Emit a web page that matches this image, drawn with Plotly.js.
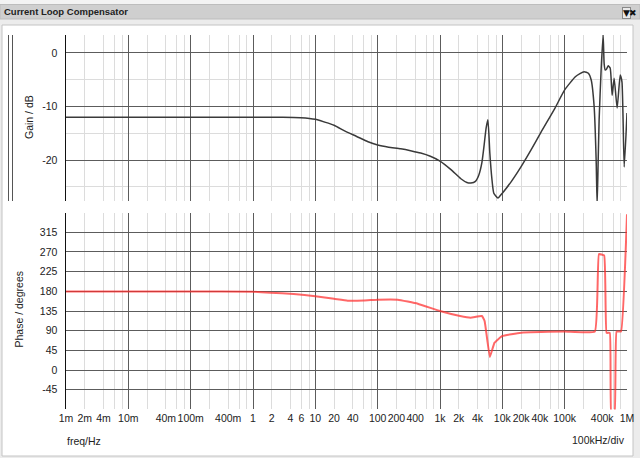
<!DOCTYPE html>
<html>
<head>
<meta charset="utf-8">
<script src="https://cdn.plot.ly/plotly-3.0.1.min.js"></script>
<style>
  html, body { margin: 0; padding: 0; background: #ececec; }
  #chart { width: 640px; height: 458px; }
</style>
</head>
<body>
<div id="chart"></div>
<script>
// ---- data ----
const freqGain = [0.001, 0.01, 0.1, 1, 3, 5.8, 10, 14, 20, 30, 46, 70, 100, 150, 234, 350, 491, 700, 1000, 1500, 2160, 2700, 3130, 3700, 4200, 4700, 5060, 5500, 5870, 6300, 6800, 7300, 8500, 10000, 14000, 19900, 30000, 41800, 70000, 100000, 150000, 205000, 240000, 266000, 297000, 320000, 332000, 345000, 357000, 385000, 414000, 430000, 447000, 470000, 499000, 537000, 578000, 622000, 695000, 778000, 830000, 902000, 1000000];
const gainDb = [-12.0, -12.0, -12.0, -12.0, -12.0, -12.1, -12.4, -12.9, -13.5, -14.6, -15.6, -16.6, -17.2, -17.6, -17.9, -18.3, -18.7, -19.3, -20.2, -21.8, -23.5, -24.2, -24.3, -24.0, -22.8, -20.5, -17.6, -14.0, -12.5, -18.7, -23.5, -26.2, -27.1, -26.2, -24.0, -21.3, -17.8, -14.8, -10.3, -6.9, -4.4, -3.5, -3.8, -5.0, -10.0, -20.0, -28.5, -20.0, -12.5, -3.0, 3.4, -2.0, -3.2, -3.0, -2.4, -2.8, -7.9, -4.7, -10.3, -4.1, -5.4, -21.3, -11.2];

const freqPhase = [0.001, 0.1, 1, 1.9, 4.5, 10, 20, 33, 60, 100, 210, 440, 1000, 2100, 3100, 4700, 5200, 6300, 7500, 10000, 20000, 100000, 305000, 355000, 430000, 470000, 530000, 560000, 630000, 680000, 800000, 1000000];
const phaseDeg = [179.5, 179.5, 179, 177, 174, 168.6, 163, 158.6, 159, 161, 161, 151.7, 135, 123.6, 119.8, 123.6, 112, 30, 62.6, 77.9, 85.4, 88, 88, 265, 262, 85, 85, -100, -100, 88, 88, 356];

const xTickVals = [0.001, 0.002, 0.004, 0.01, 0.04, 0.1, 0.4, 1, 2, 4, 6, 10, 20, 40, 100, 200, 400, 1000, 2000, 4000, 10000, 20000, 40000, 100000, 400000, 1000000];
const xTickText = ['1m', '2m', '4m', '10m', '40m', '100m', '400m', '1', '2', '4', '6', '10', '20', '40', '100', '200', '400', '1k', '2k', '4k', '10k', '20k', '40k', '100k', '400k', '1M'];
const decades = [0.001, 0.01, 0.1, 1, 10, 100, 1000, 10000, 100000, 1000000];
const minorMultipliers = [2, 4, 6, 8];

const gainTickVals = [0, -10, -20];
const gainTickText = ['0', '-10', '-20'];
const gainMinorVals = [-5, -15, -25];

const phaseTickVals = [-90, -45, 0, 45, 90, 135, 180, 225, 270, 315, 360];
const phaseTickText = ['', '-45', '0', '45', '90', '135', '180', '225', '270', '315', ''];

const titleText = 'Current Loop Compensator';
const gainTitle = 'Gain / dB';
const phaseTitle = 'Phase / degrees';
const xUnitText = 'freq/Hz';
const xDivText = '100kHz/div';

// ---- layout helpers (pixel -> paper) ----
const W = 640, H = 458;
const px = x => x / W;
const py = y => 1 - y / H;

const minorX = [];
decades.forEach(d => minorMultipliers.forEach(m => { if (d * m < 1e6) minorX.push(d * m); }));

const FONT = 'Liberation Sans, Arial, sans-serif';
const majorGrid = '#5c5c5c';
const minorGrid = '#dcdcdc';

const xGrid = {
  type: 'log', range: [-3, 6], autorange: false,
  domain: [px(66), px(627)],
  tickmode: 'array', tickvals: decades, showticklabels: false, ticks: '',
  showgrid: true, gridcolor: majorGrid, gridwidth: 1,
  minor: { tickmode: 'array', tickvals: minorX, showgrid: true, gridcolor: minorGrid, gridwidth: 1, ticks: '' },
  zeroline: false, showline: false, fixedrange: true
};

const traces = [
  { x: freqGain, y: gainDb, xaxis: 'x', yaxis: 'y', type: 'scatter', mode: 'lines',
    line: { color: '#3a3a3a', width: 1.5, shape: 'spline', smoothing: 0.5 }, hoverinfo: 'skip', showlegend: false },
  { x: freqPhase, y: phaseDeg, xaxis: 'x2', yaxis: 'y2', type: 'scatter', mode: 'lines',
    line: { color: 'rgba(255,45,45,0.72)', width: 2, shape: 'spline', smoothing: 0.3 }, hoverinfo: 'skip', showlegend: false },
  { x: [], y: [], xaxis: 'x3', yaxis: 'y2', type: 'scatter', mode: 'lines', showlegend: false, hoverinfo: 'skip' }
];

const layout = {
  width: W, height: H,
  margin: { l: 0, r: 0, t: 0, b: 0, pad: 0 },
  paper_bgcolor: '#ececec', plot_bgcolor: 'rgba(0,0,0,0)',
  font: { family: FONT, size: 10, color: '#222' },
  showlegend: false,
  xaxis: Object.assign({}, xGrid, { anchor: 'y' }),
  xaxis2: Object.assign({}, xGrid, { anchor: 'y2' }),
  xaxis3: {
    type: 'log', range: [-3, 6], autorange: false,
    overlaying: 'x2', anchor: 'y2', side: 'bottom',
    tickmode: 'array', tickvals: xTickVals, ticktext: xTickText, tickangle: 0,
    showgrid: false, zeroline: false, showline: false, ticks: '',
    ticklabelstandoff: 1,
    tickfont: { family: FONT, size: 10.5, color: '#222' }, fixedrange: true
  },
  yaxis: {
    range: [-27.66, 3.36], autorange: false,
    domain: [py(201), py(35)], anchor: 'x',
    tickmode: 'array', tickvals: gainTickVals, ticktext: gainTickText,
    showgrid: true, gridcolor: majorGrid, gridwidth: 1,
    minor: { tickmode: 'array', tickvals: gainMinorVals, showgrid: true, gridcolor: minorGrid, gridwidth: 1, ticks: '' },
    zeroline: false, showline: true, linecolor: '#111', linewidth: 1.5,
    ticks: '', ticklabelstandoff: 5,
    tickfont: { family: FONT, size: 10.5, color: '#222' }, fixedrange: true
  },
  yaxis2: {
    range: [-90, 360], autorange: false,
    domain: [py(409.4), py(212.6)], anchor: 'x2',
    tickmode: 'array', tickvals: phaseTickVals, ticktext: phaseTickText,
    showgrid: true, gridcolor: majorGrid, gridwidth: 1,
    zeroline: false, showline: true, linecolor: '#111', linewidth: 1.5,
    ticks: '', ticklabelstandoff: 5,
    tickfont: { family: FONT, size: 10.5, color: '#222' }, fixedrange: true
  },
  shapes: [
    { type: 'rect', xref: 'paper', yref: 'paper', x0: 0, x1: 1, y0: py(4), y1: 1, fillcolor: '#f3f3f3', line: { width: 0 }, layer: 'below' },
    { type: 'rect', xref: 'paper', yref: 'paper', x0: 0, x1: 1, y0: py(19), y1: py(4.5), fillcolor: '#cfcfcf', line: { color: '#bdbdbd', width: 1 }, layer: 'below' },
    { type: 'rect', xref: 'paper', yref: 'paper', x0: px(2), x1: px(633), y0: py(456), y1: py(25), fillcolor: '#ffffff', line: { color: '#c4c4c4', width: 1 }, layer: 'below' },
    { type: 'line', xref: 'paper', yref: 'paper', x0: px(8.5), x1: px(8.5), y0: py(201), y1: py(35), line: { color: '#555', width: 1 } },
    { type: 'line', xref: 'paper', yref: 'paper', x0: px(12.5), x1: px(12.5), y0: py(201), y1: py(35), line: { color: '#555', width: 1 } }
  ],
  annotations: [
    { xref: 'paper', yref: 'paper', x: px(2), y: py(12), xanchor: 'left', yanchor: 'middle', showarrow: false,
      text: '<b>' + titleText + '</b>', font: { family: 'Liberation Sans, sans-serif', size: 9.5, color: '#222' } },
    { xref: 'paper', yref: 'paper', x: px(626), y: py(12.5), xanchor: 'center', yanchor: 'middle', showarrow: false,
      text: '▼', font: { family: 'DejaVu Sans, sans-serif', size: 9, color: '#111' }, bgcolor: '#e8e8e8', bordercolor: '#888', borderwidth: 1, borderpad: 0 },
    { xref: 'paper', yref: 'paper', x: px(639), y: py(12.5), xanchor: 'right', yanchor: 'middle', showarrow: false,
      text: '✖', font: { family: 'DejaVu Sans, sans-serif', size: 9, color: '#111' } },
    { xref: 'paper', yref: 'paper', x: px(29), y: py(117), xanchor: 'center', yanchor: 'middle', showarrow: false,
      textangle: -90, text: gainTitle, font: { family: FONT, size: 10.5, color: '#222' } },
    { xref: 'paper', yref: 'paper', x: px(18.5), y: py(310), xanchor: 'center', yanchor: 'middle', showarrow: false,
      textangle: -90, text: phaseTitle, font: { family: FONT, size: 10.5, color: '#222' } },
    { xref: 'paper', yref: 'paper', x: px(65), y: py(441), xanchor: 'left', yanchor: 'middle', showarrow: false,
      text: xUnitText, font: { family: FONT, size: 10.5, color: '#222' } },
    { xref: 'paper', yref: 'paper', x: px(627), y: py(440), xanchor: 'right', yanchor: 'middle', showarrow: false,
      text: xDivText, font: { family: FONT, size: 10.5, color: '#222' } }
  ]
};

Plotly.newPlot('chart', traces, layout, { staticPlot: true, displayModeBar: false });
</script>
</body>
</html>
